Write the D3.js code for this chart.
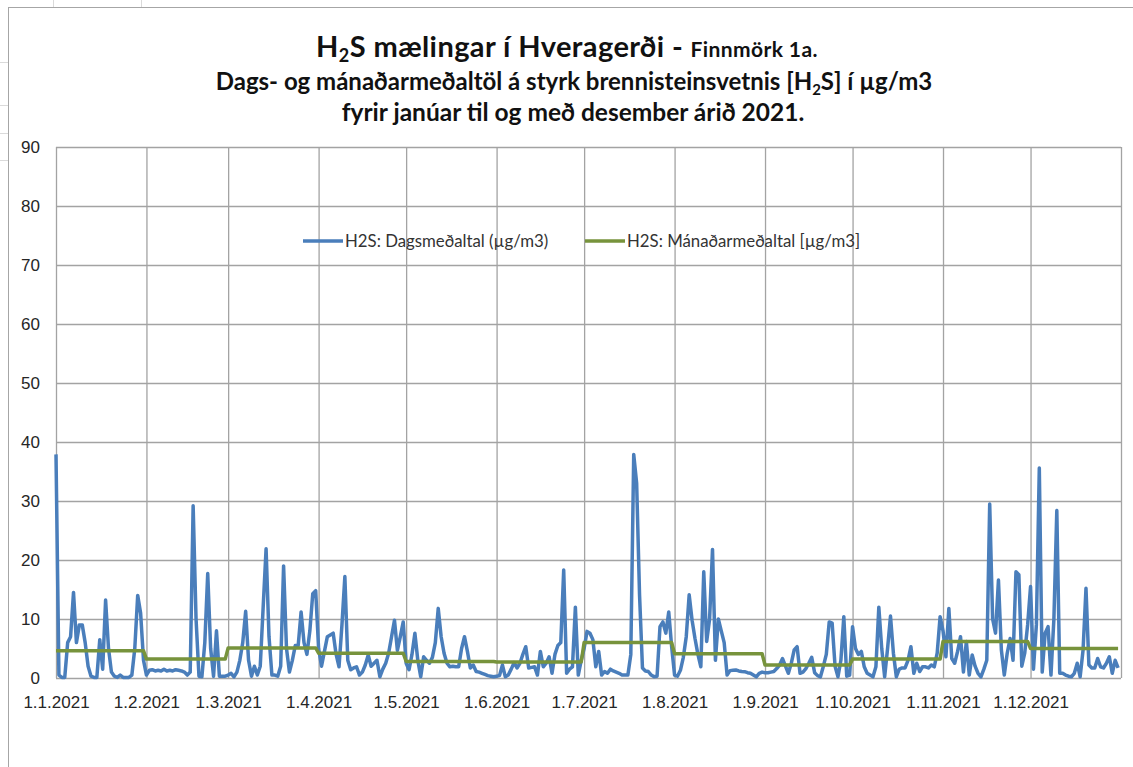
<!DOCTYPE html>
<html lang="is">
<head>
<meta charset="UTF-8">
<title>H2S mælingar í Hveragerði - Finnmörk 1a.</title>
<script src="https://d3js.org/d3.v7.min.js"></script>
<style>
  body { margin: 0; background: #fff; }
  svg { display: block; font-family: Lato, "Open Sans", sans-serif; }
  .grid line { stroke: #a3a3a3; stroke-width: 1.3; }
  .grid path { display: none; }
  .grid text { font-size: 17px; fill: #262626; }
  .title { font-weight: bold; fill: #111; }
  .legend text { font-size: 16.8px; fill: #333; }
</style>
</head>
<body>
<svg id="chart" width="1133" height="767"></svg>
<script>
// daily means, ug/m3 (one array per month)
const jan = [37.9, 0.5, 0.1, 0.1, 6, 7, 14.5, 6, 9, 9, 6, 2, 0.3, 0.1, 0.1, 6.5, 1.5, 13.2, 5, 1, 0.3, 0.1, 0.5, 0.1, 0.1, 0.1, 0.5, 5, 14, 11, 3];
const feb = [0.5, 1.3, 1.4, 1.2, 1.3, 1.2, 1.5, 1.2, 1.3, 1.2, 1.4, 1.3, 1.2, 1.0, 0.5, 1, 29.2, 10, 0.3, 0.2, 6, 17.7, 5, 0.3, 8, 0.3, 0.3, 0.3];
const mar = [0.5, 0.8, 0.2, 1, 3, 6, 11.3, 3, 0.3, 2, 0.5, 2, 12, 21.9, 7, 0.5, 0.5, 0.3, 2, 19, 5, 1, 3, 5.5, 5.5, 11.2, 6, 4, 8, 14.3, 14.8];
const apr = [5, 2, 4.5, 7, 7.3, 7.6, 4, 1.9, 9, 17.2, 3, 1.4, 1.7, 1.9, 0.5, 1, 2.2, 3.9, 2, 2.5, 3, 0.2, 1.5, 2.5, 4.2, 7, 9.8, 4.7, 7, 9.5];
const may = [2.5, 1.4, 4, 7.6, 3, 0.2, 3.6, 3, 2.5, 3.5, 6, 11.8, 7, 4.2, 2.5, 1.9, 2, 1.9, 1.9, 5, 7, 4.5, 1.7, 2.2, 1.1, 1.0, 0.8, 0.6, 0.4, 0.3, 0.2];
const jun = [0.3, 0.4, 2.2, 0.2, 0.5, 1.5, 2.6, 1.7, 2.5, 4, 5.3, 1.7, 1.8, 1.9, 0.5, 4.5, 1.9, 2.5, 3.6, 0.8, 4, 5.5, 6, 18.3, 0.8, 1.5, 1.9, 12, 0.5, 3];
const jul = [5, 7.9, 7.6, 6.5, 1.9, 4.5, 0.5, 1.1, 0.8, 1.5, 1.2, 1, 0.8, 0.5, 0.5, 0.5, 4, 37.9, 33, 14, 1.7, 1.2, 1.1, 0.5, 0.2, 0.3, 8.7, 9.5, 7.6, 11.2, 5.3];
const aug = [0.5, 0.3, 1.3, 3.5, 7, 14.1, 9.8, 6.7, 4, 1.9, 18, 6.2, 10, 21.8, 3, 10, 8, 6, 0.5, 1.25, 1.3, 1.36, 1.2, 1.1, 1.07, 0.9, 0.8, 0.5, 0.2, 0.8, 1.0];
const sep = [0.9, 0.9, 1.0, 1.1, 1.6, 2.2, 3.3, 2.0, 0.8, 2.5, 4.75, 5.3, 0.8, 1.0, 1.6, 2.5, 3.5, 0.9, 0.4, 0.2, 2, 4, 9.5, 9.3, 2, 0.2, 3, 10.4, 0.3, 0.5];
const oct = [8.7, 5, 4, 4.5, 1.9, 0.8, 0.5, 0.2, 1.9, 12, 5, 0.2, 5, 10.5, 4.2, 0.2, 1.5, 1.7, 1.7, 3, 5.3, 0.8, 2.5, 1.1, 1.9, 1.9, 1.7, 2.2, 1.9, 4.2, 10.4];
const nov = [8, 3.6, 11.8, 3.3, 2.5, 4.5, 7, 1, 6.2, 0.5, 3.9, 2, 0.8, 0.2, 1.5, 3, 29.5, 10, 7.6, 16.6, 4.75, 0.5, 4.2, 6.7, 3, 18, 17.5, 2, 4.2, 9];
const dec = [15.5, 1.5, 9, 35.6, 1, 7.6, 8.7, 0.5, 10, 28.4, 0.8, 0.8, 0.5, 0.3, 0.2, 0.8, 2.5, 0.2, 4.75, 15.2, 2.2, 1.7, 1.7, 3.3, 1.9, 1.7, 2.5, 3.6, 0.8, 3, 1.7];

// monthly means
const monthlyMean = [4.6, 3.2, 5.1, 4.2, 2.8, 2.7, 6.0, 4.1, 2.2, 3.2, 6.2, 5.0];

const xLabels = ["1.1.2021", "1.2.2021", "1.3.2021", "1.4.2021", "1.5.2021", "1.6.2021",
  "1.7.2021", "1.8.2021", "1.9.2021", "1.10.2021", "1.11.2021", "1.12.2021"];
const yTicks = [0, 10, 20, 30, 40, 50, 60, 70, 80, 90];

const months = [jan, feb, mar, apr, may, jun, jul, aug, sep, oct, nov, dec];
const daily = [];
months.forEach((vals, m) => {
  vals.forEach((v, i) => {
    daily.push({ date: new Date(Date.UTC(2021, m, i + 1)), value: v, mean: monthlyMean[m] });
  });
});

const svg = d3.select("#chart");
const margin = { left: 56, right: 1121, top: 147, bottom: 678 };

// spreadsheet cells peeking out behind the chart object
const sheet = svg.append("g").attr("stroke", "#dadada").attr("stroke-width", 1);
[62, 105, 133, 160].forEach(y => sheet.append("line").attr("x1", 0).attr("x2", 8).attr("y1", y + 0.5).attr("y2", y + 0.5));
[53, 141].forEach(x => sheet.append("line").attr("x1", x + 0.5).attr("x2", x + 0.5).attr("y1", 0).attr("y2", 7));

// chart frame
svg.append("rect")
  .attr("x", 8.5).attr("y", 7.5)
  .attr("width", 1200).attr("height", 900)
  .attr("fill", "#fff").attr("stroke", "#a6a6a6");

const parse = d3.utcParse("%d.%m.%Y");
const tickDates = xLabels.map(parse);
const endDate = new Date(Date.UTC(2022, 0, 1));

const x = d3.scaleUtc()
  .domain([tickDates[0], endDate])
  .range([margin.left, margin.right]);

const y = d3.scaleLinear()
  .domain([0, 90])
  .range([margin.bottom, margin.top]);

// horizontal grid + y labels
svg.append("g")
  .attr("class", "grid")
  .attr("transform", `translate(${margin.left},0)`)
  .call(d3.axisLeft(y).tickValues(yTicks).tickSize(-(margin.right - margin.left)).tickPadding(16));

// vertical grid + date labels
svg.append("g")
  .attr("class", "grid")
  .attr("transform", `translate(0,${margin.bottom})`)
  .call(d3.axisBottom(x)
    .tickValues(tickDates.concat([endDate]))
    .tickSize(-(margin.bottom - margin.top))
    .tickPadding(18)
    .tickFormat((d, i) => xLabels[i] || ""));

// daily series
svg.append("path")
  .datum(daily)
  .attr("fill", "none")
  .attr("stroke", "#4a7ebb")
  .attr("stroke-width", 3.5)
  .attr("stroke-linejoin", "round")
  .attr("d", d3.line().x(d => x(d.date)).y(d => y(d.value)));

// monthly mean
svg.append("path")
  .datum(daily)
  .attr("fill", "none")
  .attr("stroke", "#77933c")
  .attr("stroke-width", 3.5)
  .attr("stroke-linejoin", "round")
  .attr("d", d3.line().x(d => x(d.date)).y(d => y(d.mean)));

// legend
const legend = svg.append("g").attr("class", "legend");
[
  { x: 303, color: "#4a7ebb", label: "H2S: Dagsmeðaltal (µg/m3)" },
  { x: 585, color: "#77933c", label: "H2S: Mánaðarmeðaltal [µg/m3]" }
].forEach(item => {
  legend.append("line")
    .attr("x1", item.x).attr("x2", item.x + 40)
    .attr("y1", 241).attr("y2", 241)
    .attr("stroke", item.color).attr("stroke-width", 3.5);
  legend.append("text")
    .attr("x", item.x + 42).attr("y", 247)
    .text(item.label);
});

// titles
const t1 = svg.append("text").attr("class", "title")
  .attr("x", 567).attr("y", 57).attr("text-anchor", "middle")
  .style("font-size", "29px").style("letter-spacing", "0.4px");
t1.append("tspan").text("H");
t1.append("tspan").attr("dy", 5).style("font-size", "18px").text("2");
t1.append("tspan").attr("dy", -5).text("S mælingar í Hveragerði - ");
t1.append("tspan").style("font-size", "21px").text("Finnmörk 1a.");

const t2 = svg.append("text").attr("class", "title")
  .attr("x", 574).attr("y", 90).attr("text-anchor", "middle").style("font-size", "24px");
t2.append("tspan").text("Dags- og mánaðarmeðaltöl á styrk brennisteinsvetnis [H");
t2.append("tspan").attr("dy", 5).style("font-size", "15px").text("2");
t2.append("tspan").attr("dy", -5).text("S] í µg/m3");

svg.append("text").attr("class", "title")
  .attr("x", 573).attr("y", 121).attr("text-anchor", "middle").style("font-size", "24.5px")
  .text("fyrir janúar til og með desember árið 2021.");
</script>
</body>
</html>
